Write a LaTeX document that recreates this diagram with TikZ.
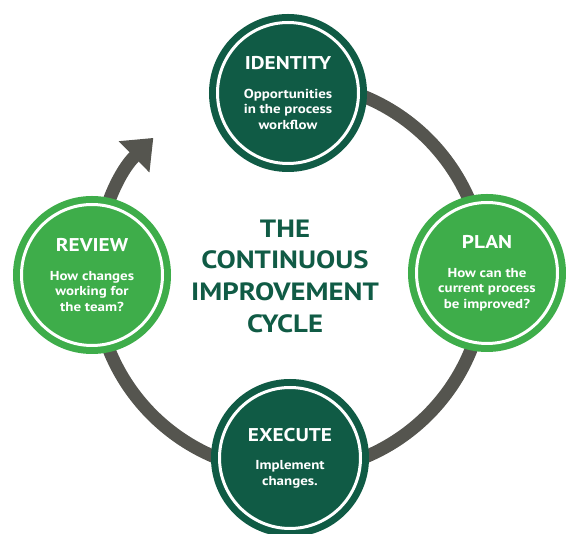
\documentclass[tikz,border=0pt]{standalone}
\usepackage{fontspec}
\setmainfont{PT Sans}[FakeStretch=1.15]
\usetikzlibrary{arrows.meta,calc}

\definecolor{dkgreen}{RGB}{16,91,69}
\definecolor{ltgreen}{RGB}{62,173,74}
\definecolor{ringgray}{RGB}{85,85,79}

\newcommand{\headfont}{\fontsize{18.5}{22}\selectfont}
\newcommand{\bodyfont}{\fontsize{13}{15.5}\selectfont}
\newcommand{\titlefont}{\fontsize{25}{31.7}\selectfont}

\begin{document}
\begin{tikzpicture}[x=1pt,y=-1pt,
	stage/.style={circle, minimum size=141pt, inner sep=0pt, line width=7pt,
		double=white, double distance=3pt, text=white, align=center,
		font=\bfseries\bodyfont},
	stage dark/.style={stage, fill=dkgreen, draw=dkgreen},
	stage light/.style={stage, fill=ltgreen, draw=ltgreen}]
	\useasboundingbox (0,0) rectangle (566,534);
	\coordinate (hub) at (290,277);

	% ring with the arrow
	\draw[ringgray, line width=13pt, -{Triangle[width=42pt,length=27pt]}]
		($(hub)+(-90:195)$) arc[start angle=-90, end angle=225.5, radius=195];

	\node[stage dark] (identity) at (288,93) {{\headfont IDENTITY}\\[13pt]Opportunities\\in the process\\workflow};
	\node[stage light] (plan) at (487,273) {{\headfont PLAN}\\[13pt]How can the\\current process\\be improved?};
	\node[stage dark] (execute) at (290,458) {{\headfont EXECUTE}\\[13pt]Implement\\changes.};
	\node[stage light] (review) at (92,275) {{\headfont REVIEW}\\[13pt]How changes\\working for\\the team?};

	\node[text=dkgreen, font=\bfseries\titlefont, align=center] (title) at (285,276) {THE\\CONTINUOUS\\IMPROVEMENT\\CYCLE};
\end{tikzpicture}
\end{document}
